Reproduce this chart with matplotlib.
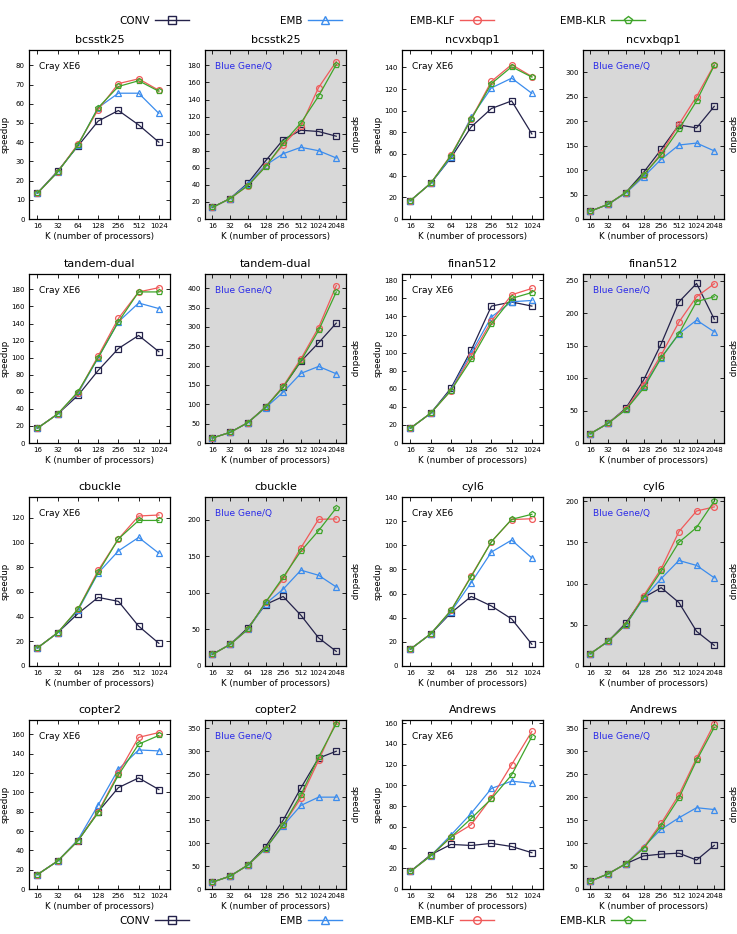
import numpy as np
import matplotlib
matplotlib.use('Agg')
import matplotlib.pyplot as plt
from matplotlib.lines import Line2D

# x 轴：处理器数
k_cray = [16, 32, 64, 128, 256, 512, 1024]
k_bgq = [16, 32, 64, 128, 256, 512, 1024, 2048]

series_names = ['CONV', 'EMB', 'EMB-KLF', 'EMB-KLR']

# 每个矩阵四条曲线: CONV, EMB, EMB-KLF, EMB-KLR
bcsstk25_cray = [
    [13.5, 25, 38, 51, 56.5, 49, 40],
    [13.5, 24.5, 38.5, 58, 65.5, 65.5, 55],
    [13.5, 24.5, 39, 57, 70.5, 73, 67],
    [13.5, 24.5, 38.5, 58, 69, 72, 66.5],
]
bcsstk25_bgq = [
    [13.6, 24, 42, 68, 93, 104, 102.5, 97],
    [13.6, 24, 41, 63, 76.5, 84, 80, 71.5],
    [13.6, 24, 39, 62, 87, 109, 154, 184.5],
    [13.6, 24, 39, 61, 89, 112.5, 144, 181],
]
ncvxbqp1_cray = [
    [17, 33, 56.5, 85, 102, 109, 78.5],
    [17, 33, 57, 94, 121, 130, 116],
    [17, 33, 59, 92.5, 127, 142.5, 131.5],
    [17, 33, 58.5, 92, 125, 140.5, 131],
]
ncvxbqp1_bgq = [
    [16, 30, 54, 95, 142, 192, 186, 230],
    [16, 30, 53, 86, 122, 151, 155, 139],
    [16, 30, 54, 89, 134, 193, 250, 315],
    [16, 30, 54, 90, 131, 183, 241, 313.5],
]
tandem_cray = [
    [17.4, 34, 55.7, 85, 110.7, 126, 107],
    [17.4, 34, 58, 100, 142, 164, 157.5],
    [17.4, 34, 59, 102, 146, 177, 182],
    [17.4, 34, 60, 100, 142, 177, 177],
]
tandem_bgq = [
    [13, 27.5, 52.5, 93, 144.5, 211, 259, 310],
    [13, 27.5, 52.5, 91, 131.5, 180, 198, 179],
    [13, 27.5, 52.5, 92, 147, 217.5, 298.5, 407],
    [13, 27.5, 52.5, 92, 145, 212.5, 291, 390.5],
]
finan512_cray = [
    [16.4, 33, 60.6, 102.6, 151.5, 156, 151.5],
    [16.4, 33, 59, 99.7, 139.5, 156.3, 157.7],
    [16.4, 33, 58, 96.4, 134.7, 164, 171],
    [16.4, 33, 58, 92.4, 131.8, 160, 166.5],
]
finan512_bgq = [
    [14.4, 30.3, 53.4, 96.5, 152.5, 217, 245.4, 190.5],
    [14.4, 30.3, 52, 87, 131.4, 168, 189, 171],
    [14.4, 30.3, 52, 90, 135.5, 186, 225, 245],
    [14.4, 30.3, 51, 84, 131, 168, 217.6, 225],
]
cbuckle_cray = [
    [14.7, 27, 42.5, 55.6, 52.4, 32.3, 18.4],
    [14.7, 27, 45, 75.4, 93.3, 104.2, 91.4],
    [14.7, 27, 46, 77.5, 103, 121.6, 122.4],
    [14.7, 27, 46, 76, 103, 118, 118],
]
cbuckle_bgq = [
    [15.9, 29.5, 52, 84, 95, 69.4, 38.5, 20],
    [15.9, 29.5, 50, 85, 105, 131, 124, 108],
    [15.9, 29.5, 50, 87, 119, 161.5, 200.5, 201],
    [15.9, 29.5, 50, 87, 121.5, 157, 185, 216],
]
cyl6_cray = [
    [14, 26.6, 44, 57.6, 49.7, 39, 18],
    [14, 26.6, 45, 69, 94.4, 104.3, 89.5],
    [14, 26.6, 46, 74.7, 103, 121.3, 122],
    [14, 26.6, 46, 74, 103, 121.5, 125.7],
]
cyl6_bgq = [
    [15, 30, 52, 83, 95, 77, 42, 25],
    [15, 30, 50, 82, 106, 128, 122, 107],
    [15, 30, 50, 85, 118, 163, 188, 193],
    [15, 30, 50, 83, 115, 150, 168, 200],
]
copter2_cray = [
    [15, 29, 50, 80, 105, 115, 103],
    [15, 29, 51, 87, 124, 144, 143],
    [15, 29, 50, 80, 120, 157, 162],
    [15, 29, 50, 79, 118, 150, 159],
]
copter2_bgq = [
    [15, 28, 52, 92, 150, 220, 285, 300],
    [15, 28, 52, 88, 138, 182, 200, 200],
    [15, 28, 52, 88, 140, 198, 280, 365],
    [15, 28, 52, 88, 140, 205, 287, 360],
]
andrews_cray = [
    [17, 33, 43, 42, 44, 41, 35],
    [17, 32, 52, 73, 97, 104, 102],
    [17, 32, 50, 62, 88, 120, 152],
    [17, 32, 50, 68, 87, 110, 147],
]
andrews_bgq = [
    [17, 33, 55, 72, 76, 78, 63, 95],
    [17, 33, 55, 92, 130, 155, 177, 173],
    [17, 33, 55, 90, 143, 205, 285, 360],
    [17, 33, 55, 88, 138, 198, 280, 352],
]

# (标题, 机器, y上限, y刻度步长, 数据)
panels = [
    ('bcsstk25', 'cray', 88, 10, bcsstk25_cray),
    ('bcsstk25', 'bgq', 198, 20, bcsstk25_bgq),
    ('ncvxbqp1', 'cray', 156, 20, ncvxbqp1_cray),
    ('ncvxbqp1', 'bgq', 345, 50, ncvxbqp1_bgq),
    ('tandem-dual', 'cray', 198, 20, tandem_cray),
    ('tandem-dual', 'bgq', 437, 50, tandem_bgq),
    ('finan512', 'cray', 187, 20, finan512_cray),
    ('finan512', 'bgq', 260, 50, finan512_bgq),
    ('cbuckle', 'cray', 137, 20, cbuckle_cray),
    ('cbuckle', 'bgq', 231, 50, cbuckle_bgq),
    ('cyl6', 'cray', 140, 20, cyl6_cray),
    ('cyl6', 'bgq', 205, 50, cyl6_bgq),
    ('copter2', 'cray', 175, 20, copter2_cray),
    ('copter2', 'bgq', 368, 50, copter2_bgq),
    ('Andrews', 'cray', 163, 20, andrews_cray),
    ('Andrews', 'bgq', 368, 50, andrews_bgq),
]

colors = ['#24224a', '#3b8ced', '#f05a5a', '#3fa52a']
markers = ['s', '^', 'o', 'p']

W, H = 737, 934
fig = plt.figure(figsize=(W / 100, H / 100), dpi=100)

col_left = [29, 205, 402, 583]
row_top = [50, 274, 497, 720]
aw, ah = 141, 169

for i, (title, mach, ytop, ystep, data) in enumerate(panels):
    r, c = divmod(i, 4)
    ax = fig.add_axes([col_left[c] / W, 1 - (row_top[r] + ah) / H, aw / W, ah / H])
    ks = k_cray if mach == 'cray' else k_bgq
    xs = np.log2(ks) - 4
    for vals, col, mk in zip(data, colors, markers):
        ax.plot(xs, vals, color=col, marker=mk, markersize=4.2,
                markerfacecolor='none', markeredgewidth=0.9, lw=0.9)
    ax.set_xlim(-0.42, len(ks) - 1 + 0.55)
    ax.set_ylim(0, ytop)
    ax.set_xticks(xs)
    ax.set_xticklabels([str(k) for k in ks])
    ax.set_yticks(np.arange(0, ytop + 0.1, ystep))
    ax.tick_params(direction='in', top=True, right=True, labelsize=5,
                   length=3, width=0.6, pad=3)
    for s in ax.spines.values():
        s.set_linewidth(0.9)
    ax.set_title(title, fontsize=8, pad=5)
    ax.set_xlabel('K (number of processors)', fontsize=6.2, labelpad=2)
    if mach == 'cray':
        ax.set_ylabel('speedup', fontsize=6.2, va='center')
        ax.yaxis.set_label_coords(-24 / aw, 0.5)
        ax.text(0.07, 0.9, 'Cray XE6', transform=ax.transAxes, fontsize=6.5,
                color='black', va='center')
    else:
        ax.set_facecolor('#d8d8d8')
        ax.yaxis.set_label_position('right')
        ax.set_ylabel('speedup', fontsize=6.2, rotation=270, va='center')
        ax.yaxis.set_label_coords(1 + 8 / aw, 0.5)
        ax.text(0.07, 0.9, 'Blue Gene/Q', transform=ax.transAxes, fontsize=6.5,
                color='#2a2ae8', va='center')

# 图例：文字在前、线段在后，上下各一行
legend_right = [189, 342, 494, 645]
for y in (1 - 21 / H, 1 - 921 / H):
    for name, col, mk, xr in zip(series_names, colors, markers, legend_right):
        h = Line2D([], [], color=col, marker=mk, markersize=5.5, markerfacecolor='none',
                   markeredgewidth=1.0, lw=1.0)
        fig.legend([h], [name], loc='center right', bbox_to_anchor=(xr / W, y),
                   frameon=False, markerfirst=False, fontsize=7.5,
                   handlelength=3.3, handletextpad=0.5, borderpad=0, borderaxespad=0)

fig.savefig('out.png', dpi=100)
